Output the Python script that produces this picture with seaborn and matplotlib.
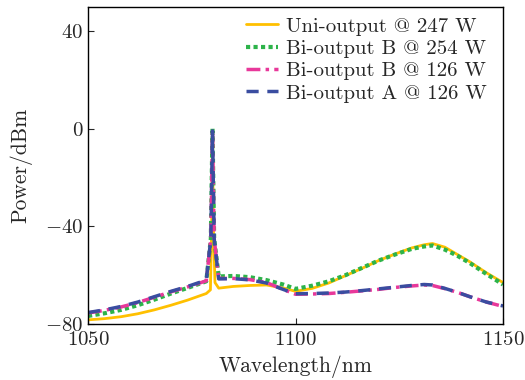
import matplotlib
matplotlib.use("Agg")
import matplotlib.pyplot as plt
import seaborn as sns
import pandas as pd

sns.set_theme(style="ticks")
plt.rcParams['font.family'] = ['serif']
plt.rcParams['font.serif'] = ['cmr10', 'DejaVu Serif']
plt.rcParams['mathtext.fontset'] = 'cm'
plt.rcParams['axes.formatter.use_mathtext'] = True

# Wavelength sample points (nm) and power (dBm)
wl_uni = [1050, 1054, 1058, 1062, 1066, 1070, 1074, 1078.5, 1079.5, 1079.8, 1080, 1080.2, 1080.6,
          1081.5, 1085, 1089, 1093, 1097, 1100, 1104, 1108, 1112, 1116, 1120, 1124, 1128,
          1131, 1133, 1136, 1139, 1142, 1146, 1150]
p_uni = [-78.3, -77.8, -77.0, -75.8, -74.2, -72.3, -70.2, -67.5, -66.0, -40, -1.5, -40, -63.0,
         -65.3, -64.6, -64.2, -64.0, -65.2, -66.6, -65.4, -63.2, -60.2, -57.2, -54.0, -51.3, -48.8,
         -47.5, -47.0, -48.5, -51.5, -54.5, -59.0, -63.0]

wl_b254 = [1050, 1054, 1058, 1062, 1066, 1070, 1074, 1078.5, 1079.6, 1080, 1080.4,
           1081.5, 1085, 1089, 1093, 1097, 1100, 1104, 1108, 1112, 1116, 1120, 1124, 1128,
           1131, 1133, 1136, 1139, 1142, 1146, 1150]
p_b254 = [-76.7, -75.6, -74.2, -72.3, -70.0, -67.5, -65.2, -62.5, -45, 0.3, -45,
          -60.5, -60.3, -60.8, -62.0, -63.8, -65.6, -64.3, -62.5, -60.0, -57.0, -54.0, -51.5,
          -49.2, -48.2, -47.8, -49.5, -52.0, -55.0, -59.5, -63.8]

wl_b126 = [1050, 1054, 1058, 1062, 1066, 1070, 1074, 1078.5, 1079.6, 1080, 1080.4,
           1081.5, 1085, 1089, 1093, 1097, 1100, 1104, 1108, 1112, 1116, 1120, 1124, 1128,
           1131, 1133, 1136, 1139, 1142, 1146, 1150]
p_b126 = [-75.5, -74.4, -73.0, -71.2, -69.0, -66.8, -64.8, -62.3, -45, -0.5, -45,
          -61.3, -61.3, -61.8, -63.0, -65.8, -67.8, -67.7, -67.5, -67.0, -66.4, -65.8, -65.0,
          -64.4, -64.0, -64.2, -65.5, -67.0, -68.8, -71.0, -72.8]

wl_a126 = [1050, 1054, 1058, 1062, 1066, 1070, 1074, 1078.5, 1079.6, 1080, 1080.4,
           1081.5, 1085, 1089, 1093, 1097, 1100, 1104, 1108, 1112, 1116, 1120, 1124, 1128,
           1131, 1133, 1136, 1139, 1142, 1146, 1150]
p_a126 = [-75.3, -74.2, -72.8, -71.0, -68.8, -66.6, -64.6, -62.0, -45, -0.8, -45,
          -61.5, -61.4, -61.9, -63.2, -65.8, -67.6, -67.5, -67.3, -66.9, -66.3, -65.6, -64.9,
          -64.2, -63.8, -64.0, -65.4, -67.0, -68.8, -71.0, -72.6]

labels = ["Uni-output @ 247 W", "Bi-output B @ 254 W",
          "Bi-output B @ 126 W", "Bi-output A @ 126 W"]
series = [(wl_uni, p_uni), (wl_b254, p_b254), (wl_b126, p_b126), (wl_a126, p_a126)]
colors = ["#FFC000", "#2DB34A", "#E8389A", "#3A4DA0"]
styles = ["-", (0, (1, 0.8)), (0, (4, 1.5, 1, 1.5)), (0, (3.5, 2.5))]
widths = [2.0, 3.0, 2.5, 2.5]

fig = plt.figure(figsize=(5.25, 3.8), dpi=100)
ax = fig.add_axes([88 / 525, 1 - 324 / 380, (503 - 88) / 525, (324 - 7) / 380])

for (x, y), lab, c, ls, lw in zip(series, labels, colors, styles, widths):
    df = pd.DataFrame({"Wavelength": x, "Power": y})
    sns.lineplot(data=df, x="Wavelength", y="Power", ax=ax, color=c,
                 linestyle=ls, linewidth=lw, label=lab, sort=False)

ax.set_xlim(1050, 1150)
ax.set_ylim(-80, 50)
ax.set_xticks([1050, 1100, 1150])
ax.set_yticks([-80, -40, 0, 40])
ax.tick_params(direction="in", labelsize=15, length=4, width=0.8)
ax.tick_params(axis="x", pad=5)
for s in ax.spines.values():
    s.set_linewidth(1.0)
    s.set_color("black")
ax.set_xlabel("Wavelength/nm", fontsize=15.5, labelpad=5)
ax.set_ylabel("Power/dBm", fontsize=15.5, labelpad=9)

leg = ax.legend(loc="upper left", bbox_to_anchor=(246 / 525, 1 - 17 / 380),
                bbox_transform=fig.transFigure, fontsize=15, frameon=False,
                handlelength=1.55, borderpad=0.0, labelspacing=0.18,
                handletextpad=0.38, borderaxespad=0.0)

fig.savefig("out.png", dpi=100)
